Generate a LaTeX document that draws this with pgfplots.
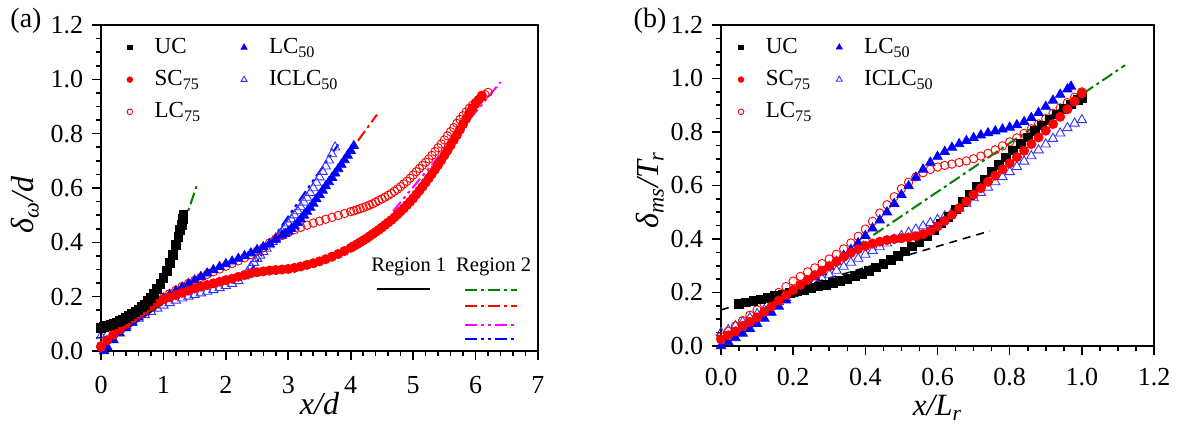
\documentclass[border=0pt]{standalone}
\usepackage{fontspec}
\setmainfont{Liberation Serif}
\usepackage{pgfplots}
\pgfplotsset{compat=1.18}
\definecolor{dgreen}{RGB}{0,128,0}
\definecolor{mag}{RGB}{255,0,255}
\tikzset{
  dashdot/.style={line width=1pt, dash pattern=on 6pt off 2pt on 1.5pt off 2pt},
  dashdotdot/.style={line width=1pt, dash pattern=on 6pt off 2pt on 1.5pt off 2pt on 1.5pt off 2pt},
}
\pgfplotsset{
  common/.style={
    scale only axis,
    axis line style={line width=0.9pt},
    tick align=outside,
    xtick pos=left, ytick pos=left,
    major tick length=4.5pt, minor tick length=2.5pt,
    every tick/.style={black, line width=0.8pt},
    minor y tick num=3,
    ymin=0, ymax=1.2, ytick={0,0.2,0.4,0.6,0.8,1.0,1.2},
    yticklabel style={xshift=-3.3pt, /pgf/number format/.cd, fixed, fixed zerofill, precision=1},
    tick label style={font=\fontsize{13}{15}\selectfont, inner sep=1pt},
    /pgf/number format/assume math mode=true,
    label style={font=\fontsize{16}{18}\selectfont, inner sep=0pt},
    legend cell align=left,
    legend columns=2,
    clip=false,
  },
  legmark/.style={legend image code/.code={\draw[##1] plot coordinates {(0pt,0pt)};}},
  sUC/.style={only marks, mark=square*, black, mark size=2.2pt},
  sSC/.style={only marks, mark=*, red, mark size=2.3pt},
  sLC/.style={only marks, mark=o, red, mark size=2.1pt, mark options={line width=0.45pt}},
  sLF/.style={only marks, mark=triangle*, blue, mark size=2.7pt},
  sIC/.style={only marks, mark=triangle, blue!80, mark size=2.7pt, mark options={line width=0.45pt}},
}
\begin{document}
\begin{tikzpicture}
\useasboundingbox (0,0) rectangle (588.5pt,212.5pt);
\node[font=\fontsize{14}{16}\selectfont] at (13pt,202pt) {(a)};
\node[font=\fontsize{14}{16}\selectfont] at (325pt,202pt) {(b)};
% ---------------- panel (a)
\begin{axis}[common,
  at={(50.5pt,37pt)}, anchor=south west,
  width=218.5pt, height=163pt,
  xmin=0, xmax=7, xtick={0,1,2,3,4,5,6,7}, minor x tick num=4,
  xticklabel style={yshift=-6.8pt},
  xlabel={\itshape x/d}, xlabel style={at={(axis description cs:0.5,-0.16)}, anchor=center},
  ylabel={\itshape δ\textsubscript{ω}/d}, ylabel style={at={(axis description cs:-0.174,0.448)}, anchor=center},
  legend style={draw=none, fill=none, at={(axis description cs:0.045,0.985)}, anchor=north west,
    font=\fontsize{11.5}{13}\selectfont, row sep=3pt,
    /tikz/every odd column/.append style={column sep=9pt},
    /tikz/every even column/.append style={column sep=18pt}},
]
\addplot[sIC, forget plot] coordinates {(0.0,0.055)(0.1,0.06)(0.2,0.07)(0.3,0.08)(0.4,0.093)(0.5,0.106)(0.6,0.12)(0.7,0.133)(0.8,0.145)(0.9,0.157)(1.0,0.168)(1.1,0.177)(1.2,0.186)(1.3,0.194)(1.4,0.201)(1.5,0.207)(1.6,0.213)(1.7,0.219)(1.8,0.225)(1.9,0.232)(2.0,0.24)(2.1,0.248)(2.2,0.258)(2.3,0.275)(2.35,0.29)(2.4,0.31)(2.45,0.325)(2.5,0.34)(2.6,0.365)(2.7,0.39)(2.8,0.415)(2.9,0.44)(3.0,0.47)(3.1,0.50)(3.2,0.53)(3.3,0.565)(3.4,0.60)(3.5,0.64)(3.6,0.68)(3.7,0.725)(3.75,0.75)
(2.55,0.352)(2.65,0.377)(2.75,0.402)(2.85,0.427)(2.95,0.455)(3.05,0.485)(3.15,0.515)(3.25,0.547)(3.35,0.582)(3.45,0.62)(3.55,0.66)(3.65,0.702)};
\addplot[sLC, forget plot] coordinates {(0.0,0.02)(0.1,0.04)(0.2,0.06)(0.3,0.08)(0.4,0.10)(0.5,0.12)(0.6,0.138)(0.7,0.155)(0.8,0.17)(0.9,0.185)(1.0,0.198)(1.1,0.211)(1.2,0.224)(1.3,0.237)(1.4,0.249)(1.5,0.26)(1.6,0.271)(1.7,0.282)(1.8,0.292)(1.9,0.302)(2.0,0.312)(2.1,0.322)(2.2,0.332)(2.3,0.343)(2.4,0.355)(2.5,0.368)(2.6,0.38)(2.7,0.398)(2.8,0.413)(2.9,0.425)(3.0,0.436)(3.1,0.446)(3.2,0.455)(3.3,0.463)(3.4,0.471)(3.5,0.478)(3.6,0.485)(3.7,0.492)(3.8,0.499)(3.9,0.506)(4.0,0.513)(4.1,0.52)(4.2,0.528)(4.3,0.537)(4.4,0.548)(4.5,0.56)(4.6,0.573)(4.7,0.588)(4.8,0.605)(4.9,0.625)(5.0,0.648)(5.1,0.672)(5.2,0.695)(5.3,0.72)(5.4,0.748)(5.5,0.777)(5.6,0.807)(5.7,0.838)(5.8,0.866)(5.9,0.893)(6.0,0.915)(6.1,0.935)(6.2,0.952)
(4.05,0.516)(4.15,0.524)(4.25,0.532)(4.35,0.542)(4.45,0.554)(4.55,0.566)(4.65,0.58)(4.75,0.596)(4.85,0.615)(4.95,0.636)(5.05,0.66)(5.15,0.683)(5.25,0.707)(5.35,0.734)(5.45,0.762)(5.55,0.792)(5.65,0.822)(5.75,0.852)(5.85,0.88)(5.95,0.905)(6.05,0.925)(6.15,0.944)};
\addplot[sLF, forget plot] coordinates {(0.05,0.0)(0.1,0.015)(0.2,0.04)(0.3,0.065)(0.4,0.085)(0.5,0.105)(0.6,0.125)(0.7,0.143)(0.8,0.16)(0.9,0.177)(1.0,0.193)(1.1,0.207)(1.2,0.221)(1.3,0.234)(1.4,0.247)(1.5,0.26)(1.6,0.273)(1.7,0.286)(1.8,0.298)(1.9,0.31)(2.0,0.32)(2.1,0.33)(2.2,0.34)(2.3,0.35)(2.4,0.36)(2.5,0.372)(2.6,0.383)(2.7,0.395)(2.8,0.41)(2.9,0.425)(3.0,0.44)(3.1,0.46)(3.2,0.485)(3.3,0.513)(3.4,0.543)(3.5,0.575)(3.6,0.607)(3.7,0.638)(3.8,0.67)(3.9,0.703)(4.0,0.737)(4.05,0.755)
(2.95,0.432)(3.05,0.45)(3.15,0.472)(3.25,0.499)(3.35,0.528)(3.45,0.559)(3.55,0.591)(3.65,0.622)(3.75,0.654)(3.85,0.686)(3.95,0.72)};
\addplot[sSC, forget plot] coordinates {(0.0,0.015)(0.1,0.04)(0.2,0.06)(0.3,0.08)(0.4,0.10)(0.5,0.12)(0.6,0.135)(0.7,0.15)(0.8,0.165)(0.9,0.178)(1.0,0.19)(1.1,0.198)(1.2,0.206)(1.3,0.214)(1.4,0.222)(1.5,0.23)(1.6,0.237)(1.7,0.243)(1.8,0.249)(1.9,0.255)(2.0,0.261)(2.1,0.266)(2.2,0.273)(2.3,0.28)(2.4,0.286)(2.5,0.29)(2.6,0.293)(2.7,0.296)(2.8,0.298)(2.9,0.30)(3.0,0.302)(3.1,0.306)(3.2,0.311)(3.3,0.317)(3.4,0.323)(3.5,0.33)(3.6,0.338)(3.7,0.347)(3.8,0.357)(3.9,0.368)(4.0,0.38)(4.1,0.393)(4.2,0.407)(4.3,0.422)(4.4,0.438)(4.5,0.455)(4.6,0.473)(4.7,0.492)(4.8,0.514)(4.9,0.537)(5.0,0.562)(5.1,0.59)(5.2,0.62)(5.3,0.652)(5.4,0.685)(5.5,0.72)(5.6,0.757)(5.7,0.795)(5.8,0.835)(5.9,0.875)(6.0,0.91)(6.1,0.94)
(4.05,0.386)(4.15,0.40)(4.25,0.414)(4.35,0.43)(4.45,0.446)(4.55,0.464)(4.65,0.482)(4.75,0.503)(4.85,0.525)(4.95,0.549)(5.05,0.576)(5.15,0.605)(5.25,0.636)(5.35,0.668)(5.45,0.702)(5.55,0.738)(5.65,0.776)(5.75,0.815)(5.85,0.855)(5.95,0.893)(6.05,0.925)};
\addplot[sUC, forget plot] coordinates {(0.00,0.085)(0.05,0.088)(0.10,0.092)(0.15,0.096)(0.20,0.10)(0.25,0.105)(0.30,0.11)(0.35,0.116)(0.40,0.122)(0.45,0.129)(0.50,0.136)(0.55,0.144)(0.60,0.152)(0.65,0.161)(0.70,0.171)(0.75,0.183)(0.80,0.196)(0.85,0.211)(0.90,0.228)(0.95,0.248)(1.00,0.27)(1.05,0.295)(1.10,0.323)(1.15,0.355)(1.20,0.39)(1.24,0.42)(1.27,0.445)(1.29,0.465)(1.31,0.485)(1.32,0.50)};
% fitted lines
\addplot[black, line width=1pt, forget plot] coordinates {(0.09,0.029)(1.75,0.30)};
\addplot[dgreen, dashdot, forget plot] coordinates {(1.08,0.30)(1.55,0.62)};
\addplot[red, dashdot, forget plot] coordinates {(3.25,0.50)(4.42,0.87)};
\addplot[mag, dashdotdot, forget plot] coordinates {(4.68,0.515)(6.4,0.99)};
\addplot[blue, dashdotdot, forget plot] coordinates {(2.35,0.28)(3.8,0.76)};
% region legend
\node[font=\fontsize{10.3}{12}\selectfont] at (axis cs:4.93,0.309) {Region 1};
\node[font=\fontsize{10.3}{12}\selectfont] at (axis cs:6.29,0.309) {Region 2};
\draw[black, line width=1pt] (axis cs:4.42,0.228) -- (axis cs:5.27,0.228);
\draw[dgreen, dashdot] (axis cs:5.83,0.225) -- (axis cs:6.66,0.225);
\draw[red, dashdot] (axis cs:5.83,0.166) -- (axis cs:6.66,0.166);
\draw[mag, dashdotdot] (axis cs:5.83,0.096) -- (axis cs:6.66,0.096);
\draw[blue, dashdotdot] (axis cs:5.83,0.044) -- (axis cs:6.66,0.044);
% legend
\addlegendimage{sUC, mark size=1.2pt, legmark}\addlegendentry{UC}
\addlegendimage{sLF, mark size=1.7pt, legmark}\addlegendentry{LC\textsubscript{50}}
\addlegendimage{sSC, mark size=1.4pt, legmark}\addlegendentry{SC\textsubscript{75}}
\addlegendimage{sIC, mark size=1.7pt, legmark}\addlegendentry{ICLC\textsubscript{50}}
\addlegendimage{sLC, mark size=1.4pt, legmark}\addlegendentry{LC\textsubscript{75}}
\end{axis}
% ---------------- panel (b)
\begin{axis}[common,
  at={(360.5pt,39.5pt)}, anchor=south west,
  width=216.5pt, height=160.5pt,
  xmin=0, xmax=1.2, xtick={0,0.2,0.4,0.6,0.8,1.0,1.2}, minor x tick num=3,
  xticklabel style={yshift=-5.3pt, /pgf/number format/.cd, fixed, fixed zerofill, precision=1},
  xlabel={\itshape x/L\textsubscript{r}}, xlabel style={font=\fontsize{15.5}{17}\selectfont, at={(axis description cs:0.5,-0.192)}, anchor=center},
  ylabel={\itshape δ\textsubscript{ms}/T\textsubscript{r}}, ylabel style={at={(axis description cs:-0.164,0.486)}, anchor=center},
  legend style={draw=none, fill=none, at={(axis description cs:0.025,0.985)}, anchor=north west,
    font=\fontsize{11.5}{13}\selectfont, row sep=3pt,
    /tikz/every odd column/.append style={column sep=9pt},
    /tikz/every even column/.append style={column sep=10pt}},
]
\addplot[sIC, forget plot] coordinates {(0.00,0.05)(0.02,0.06)(0.04,0.075)(0.06,0.09)(0.08,0.105)(0.10,0.12)(0.12,0.135)(0.14,0.15)(0.16,0.165)(0.18,0.18)(0.20,0.195)(0.22,0.21)(0.24,0.224)(0.26,0.238)(0.28,0.252)(0.30,0.267)(0.32,0.282)(0.34,0.297)(0.36,0.312)(0.38,0.327)(0.40,0.342)(0.42,0.356)(0.44,0.37)(0.46,0.384)(0.48,0.398)(0.50,0.412)(0.52,0.424)(0.54,0.436)(0.56,0.448)(0.58,0.46)(0.60,0.472)(0.62,0.485)(0.64,0.499)(0.66,0.515)(0.68,0.533)(0.70,0.553)(0.72,0.573)(0.74,0.593)(0.76,0.613)(0.78,0.632)(0.80,0.651)(0.82,0.67)(0.84,0.69)(0.86,0.71)(0.88,0.732)(0.90,0.754)(0.92,0.775)(0.94,0.795)(0.96,0.815)(0.98,0.832)(1.00,0.845)};
\addplot[sLC, forget plot] coordinates {(0.00,0.035)(0.02,0.055)(0.04,0.075)(0.06,0.095)(0.08,0.115)(0.10,0.135)(0.12,0.157)(0.14,0.178)(0.16,0.20)(0.18,0.222)(0.20,0.243)(0.22,0.26)(0.24,0.277)(0.26,0.292)(0.28,0.308)(0.30,0.325)(0.32,0.343)(0.34,0.363)(0.36,0.385)(0.38,0.41)(0.40,0.437)(0.42,0.466)(0.44,0.497)(0.46,0.528)(0.48,0.558)(0.50,0.588)(0.52,0.612)(0.54,0.632)(0.56,0.648)(0.58,0.66)(0.60,0.669)(0.62,0.675)(0.64,0.68)(0.66,0.686)(0.68,0.692)(0.70,0.70)(0.72,0.71)(0.74,0.72)(0.76,0.733)(0.78,0.748)(0.80,0.763)(0.82,0.778)(0.84,0.795)(0.86,0.812)(0.88,0.83)(0.90,0.85)(0.92,0.87)(0.94,0.89)(0.96,0.91)(0.98,0.93)(1.00,0.95)};
\addplot[sLF, forget plot] coordinates {(0.00,0.0)(0.02,0.015)(0.04,0.03)(0.06,0.047)(0.08,0.064)(0.10,0.083)(0.12,0.103)(0.14,0.125)(0.16,0.148)(0.18,0.171)(0.20,0.194)(0.22,0.216)(0.24,0.237)(0.26,0.257)(0.28,0.276)(0.30,0.296)(0.32,0.316)(0.34,0.338)(0.36,0.36)(0.38,0.385)(0.40,0.412)(0.42,0.44)(0.44,0.47)(0.46,0.50)(0.48,0.532)(0.50,0.565)(0.52,0.598)(0.54,0.63)(0.56,0.66)(0.58,0.686)(0.60,0.708)(0.62,0.726)(0.64,0.742)(0.66,0.755)(0.68,0.767)(0.70,0.778)(0.72,0.788)(0.74,0.796)(0.76,0.803)(0.78,0.81)(0.80,0.817)(0.82,0.826)(0.84,0.838)(0.86,0.853)(0.88,0.872)(0.90,0.895)(0.92,0.918)(0.94,0.94)(0.96,0.96)(0.97,0.97)};
\addplot[sUC, forget plot] coordinates {(0.05,0.158)(0.07,0.163)(0.09,0.168)(0.11,0.174)(0.13,0.18)(0.15,0.187)(0.17,0.193)(0.19,0.199)(0.21,0.205)(0.23,0.211)(0.25,0.217)(0.27,0.223)(0.29,0.229)(0.31,0.236)(0.33,0.244)(0.35,0.252)(0.37,0.261)(0.39,0.271)(0.41,0.282)(0.43,0.294)(0.45,0.308)(0.47,0.322)(0.49,0.337)(0.51,0.354)(0.53,0.372)(0.55,0.39)(0.57,0.41)(0.59,0.432)(0.61,0.458)(0.63,0.484)(0.65,0.511)(0.67,0.538)(0.69,0.566)(0.71,0.594)(0.73,0.622)(0.75,0.65)(0.77,0.678)(0.79,0.705)(0.81,0.731)(0.83,0.756)(0.85,0.78)(0.87,0.803)(0.89,0.825)(0.91,0.846)(0.93,0.866)(0.95,0.885)(0.97,0.903)(0.99,0.92)(1.00,0.928)};
\addplot[sSC, forget plot] coordinates {(0.00,0.025)(0.02,0.04)(0.04,0.055)(0.06,0.075)(0.08,0.09)(0.10,0.107)(0.12,0.127)(0.14,0.148)(0.16,0.17)(0.18,0.19)(0.20,0.21)(0.22,0.229)(0.24,0.247)(0.26,0.265)(0.28,0.282)(0.30,0.298)(0.32,0.316)(0.34,0.333)(0.36,0.348)(0.38,0.362)(0.40,0.374)(0.42,0.383)(0.44,0.39)(0.46,0.396)(0.48,0.40)(0.50,0.403)(0.52,0.406)(0.54,0.41)(0.56,0.418)(0.58,0.43)(0.60,0.447)(0.62,0.468)(0.64,0.49)(0.66,0.515)(0.68,0.54)(0.70,0.566)(0.72,0.59)(0.74,0.614)(0.76,0.637)(0.78,0.66)(0.80,0.683)(0.82,0.706)(0.84,0.73)(0.86,0.755)(0.88,0.78)(0.90,0.805)(0.92,0.83)(0.94,0.857)(0.96,0.885)(0.98,0.915)(1.00,0.945)};
\addplot[dgreen, dashdot, forget plot] coordinates {(0,0.03)(1.12,1.05)};
\addplot[black, line width=0.8pt, dash pattern=on 4pt off 3pt, forget plot] coordinates {(0,0.135)(0.745,0.43)};
\addlegendimage{sUC, mark size=1.2pt, legmark}\addlegendentry{UC}
\addlegendimage{sLF, mark size=1.7pt, legmark}\addlegendentry{LC\textsubscript{50}}
\addlegendimage{sSC, mark size=1.4pt, legmark}\addlegendentry{SC\textsubscript{75}}
\addlegendimage{sIC, mark size=1.7pt, legmark}\addlegendentry{ICLC\textsubscript{50}}
\addlegendimage{sLC, mark size=1.4pt, legmark}\addlegendentry{LC\textsubscript{75}}
\end{axis}
\end{tikzpicture}
\end{document}
